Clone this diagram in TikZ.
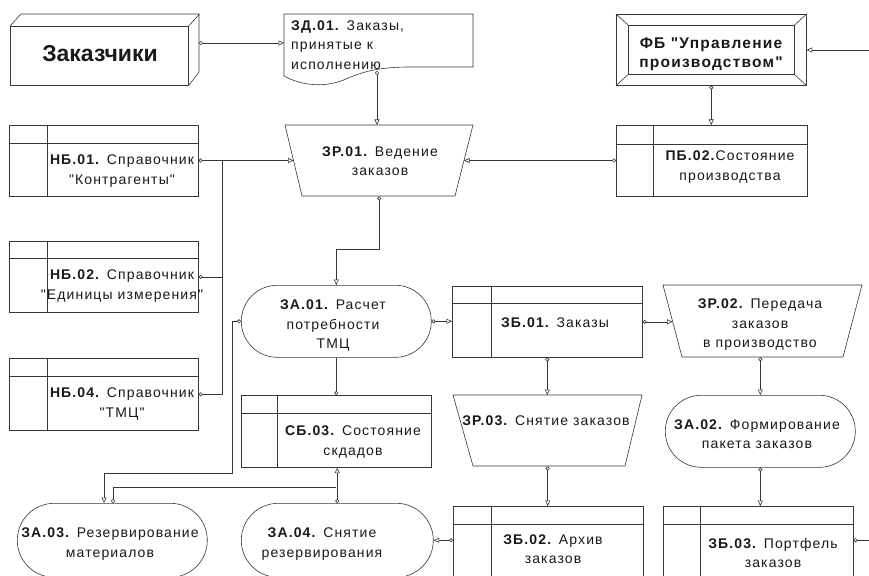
\documentclass[tikz,border=0pt]{standalone}
\usepackage{fontspec}
\setmainfont[LetterSpace=8,Ligatures=TeXOff]{Liberation Sans}
\usetikzlibrary{arrows.meta,calc}
\definecolor{lc}{RGB}{55,55,55}
\definecolor{tc}{RGB}{25,25,25}
\newcommand\bb[1]{\textbf{#1}}
\newcommand\qq{\symbol{34}}
\newcommand\tabbox[7]{%
  \node[shp, minimum width={(#4-#2)*1pt}, minimum height={(#5-#3)*1pt}] (#1) at (#2,#3) {};
  \draw[ln] (#6,#3) -- (#6,#5) (#2,#7) -- (#4,#7);
}
\newcommand\trapbox[7]{%
  \node[ghost, minimum width={(#3-#2)*1pt}, minimum height={(#7-#4)*1pt}] (#1) at (#2,#4) {};
  \draw[ln] (#2,#4) -- (#3,#4) -- (#6,#7) -- (#5,#7) -- cycle;
  \coordinate (#1-w) at ({(#2+#5)/2},{(#4+#7)/2});
  \coordinate (#1-e) at ({(#3+#6)/2},{(#4+#7)/2});
}
\begin{document}
\begin{tikzpicture}[x=1pt,y=-1pt,
  ln/.style={draw=lc, line width=0.6pt},
  shp/.style={draw=lc, line width=0.6pt, inner sep=0, anchor=north west},
  ghost/.style={inner sep=0, anchor=north west},
  stad/.style={shp, rounded corners=35.9pt},
  txt/.style={font=\fontsize{14}{19.5}\selectfont, align=center, inner sep=0, text=tc},
  tri/.style={-{Triangle[open,length=5.5pt,width=5pt]}},
  citri/.style={{Circle[open,length=4pt]}-{Triangle[open,length=5.5pt,width=5pt]}},
  ci/.style={{Circle[open,length=4pt]}-},
  endci/.style={-{Circle[open,length=4pt]}},
]
\useasboundingbox (0,0) rectangle (869,575);
\clip (0,0) rectangle (869,575);
\fill[white] (0,0) rectangle (869,575);

% --- Заказчики (3D box)
\node[shp, minimum width=178pt, minimum height=59pt] (zak) at (10,26) {};
\draw[ln] (zak.north west) -- ++(11,-12) -- ++(178,0) -- ++(0,58) -- (zak.south east)
          (zak.north east) -- ++(11,-12);
\coordinate (zak-e) at (199,43);
\node[txt, font=\fontsize{23}{26}\bfseries\addfontfeature{LetterSpace=0}] (t-zak) at (100,54) {Заказчики};

% --- ЗД.01 document
\node[ghost, minimum width=189pt, minimum height=62pt] (zd1) at (284,14) {};
\draw[ln] (284,76) -- (284,14) -- (473,14) -- (473,67) -- (410,67)
   .. controls (378,67) and (362,72) .. (346,79)
   .. controls (326,88) and (302,86) .. (284,76);
\coordinate (zd1-b) at (377,71);
\node[txt, align=left, anchor=west] (t-zd1) at (291,45) {\bb{ЗД.01.} Заказы,\\принятые к\\исполнению};

% --- ФБ
\node[shp, minimum width=190pt, minimum height=71pt] (fb) at (616,14) {};
\draw[ln] (628,25) rectangle (794,74);
\draw[ln] (fb.north west) -- ++(12,11) (fb.north east) -- ++(-12,11)
          (fb.south west) -- ++(12,-11) (fb.south east) -- ++(-12,-11);
\node[txt, font=\fontsize{15.5}{19}\bfseries] (t-fb) at (711,54) {ФБ \qq Управление\\производством\qq};

% --- tables
\tabbox{pb2}{616}{125}{807}{196}{653}{144}
\node[txt] (t-pb2) at (730,167) {\bb{ПБ.02.}Состояние\\производства};
\tabbox{nb1}{9}{125}{198}{196}{47}{143}
\node[txt] (t-nb1) at (122,171) {\bb{НБ.01.} Справочник\\\qq Контрагенты\qq};
\tabbox{nb2}{9}{241}{198}{312}{47}{258}
\node[txt] (t-nb2) at (122,286) {\bb{НБ.02.} Справочник\\\qq Единицы измерения\qq};
\tabbox{nb4}{9}{358}{198}{430}{47}{376}
\node[txt] (t-nb4) at (122,404) {\bb{НБ.04.} Справочник\\\qq ТМЦ\qq};
\tabbox{zb1}{452}{286}{642}{357}{491}{303}
\node[txt] (t-zb1) at (555,323) {\bb{ЗБ.01.} Заказы};
\tabbox{sb3}{241}{395}{431}{467}{277}{413}
\node[txt] (t-sb3) at (353,442) {\bb{СБ.03.} Состояние\\скдадов};
\tabbox{zb2}{453}{506}{643}{590}{491}{524}
\node[txt] (t-zb2) at (553,549) {\bb{ЗБ.02.} Архив\\заказов};
\tabbox{zb3}{663}{506}{853}{590}{700}{524}
\node[txt] (t-zb3) at (773,553) {\bb{ЗБ.03.} Портфель\\заказов};

% --- trapezoids
\trapbox{zr1}{285}{473}{125}{302}{455}{196}
\node[txt] (t-zr1) at (380,161) {\bb{ЗР.01.} Ведение\\заказов};
\trapbox{zr2}{663}{862}{285}{682}{843}{357}
\node[txt] (t-zr2) at (760,325) {\bb{ЗР.02.} Передача\\заказов\\в производство};
\trapbox{zr3}{453}{642}{395}{473}{625}{466}
\node[txt] (t-zr3) at (546,421) {\bb{ЗР.03.} Снятие заказов};

% --- stadiums
\node[stad, minimum width=190pt, minimum height=72pt] (za1) at (241,285) {};
\node[txt] (t-za1) at (333,326) {\bb{ЗА.01.} Расчет\\потребности\\ТМЦ};
\node[stad, minimum width=190pt, minimum height=72pt] (za2) at (665,395) {};
\node[txt] (t-za2) at (757,434) {\bb{ЗА.02.} Формирование\\пакета заказов};
\node[stad, rounded corners=36.9pt, minimum width=190pt, minimum height=74pt] (za3) at (17,503) {};
\node[txt] (t-za3) at (110,544) {\bb{ЗА.03.} Резервирование\\материалов};
\node[stad, rounded corners=36.9pt, minimum width=192pt, minimum height=74pt] (za4) at (241,503) {};
\node[txt] (t-za4) at (322,544) {\bb{ЗА.04.} Снятие\\резервирования};

% --- connectors
\draw[ln,citri] (zak-e) -- (zak-e -| zd1.west);
\draw[ln,citri] (zd1-b) -- (zd1-b |- zr1.north);
\draw[ln,citri] (fb.south) -- (fb.south |- pb2.north);
\coordinate (re) at (869,50);
\draw[ln,tri] (re) -- (re -| fb.east);
\draw[ln,citri] (pb2.west |- zr1-e) -- (zr1-e);
\draw[ln,citri] (nb1.east |- zr1-w) -- (zr1-w);
\coordinate (bus) at (222,0);
\draw[ln,ci] (nb2.east) -- (nb2.east -| bus);
\draw[ln,ci] (nb4.east) -- (nb4.east -| bus) -- (bus |- zr1-w);
\draw[ln,citri] (zr1.south) -- ++(0,53) -| (za1.north);
\draw[ln,citri] (za1.east) -- (za1.east -| zb1.west);
\draw[ln,citri] (zb1.east) -- (zb1.east -| zr2-w);
\draw[ln,citri] (za2.north |- zr2.south) -- (za2.north);
\draw[ln,citri] (zb1.south) -- (zb1.south |- zr3.north);
\draw[ln,endci] (za1.south) -- (za1.south |- sb3.north);
\coordinate (j1) at (104,473);
\draw[ln,citri] (za1.west) -- ++(-9,0) |- (j1) -- (j1 |- za3.north);
\coordinate (j2) at (113,487);
\draw[ln,ci] (j2 |- za3.north) -- (j2) -- (j2 -| sb3.south);
\draw[ln,citri] (za4.north) -- (za4.north |- sb3.south);
\draw[ln,citri] (zb2.west |- za4.east) -- (za4.east);
\draw[ln,citri] (zr3.south) -- (zr3.south |- zb2.north);
\draw[ln,citri] (za2.south) -- (za2.south |- zb3.north);
\draw[ln,ci] (zb3.east |- za4.east) -- ++(20,0);
\end{tikzpicture}
\end{document}
